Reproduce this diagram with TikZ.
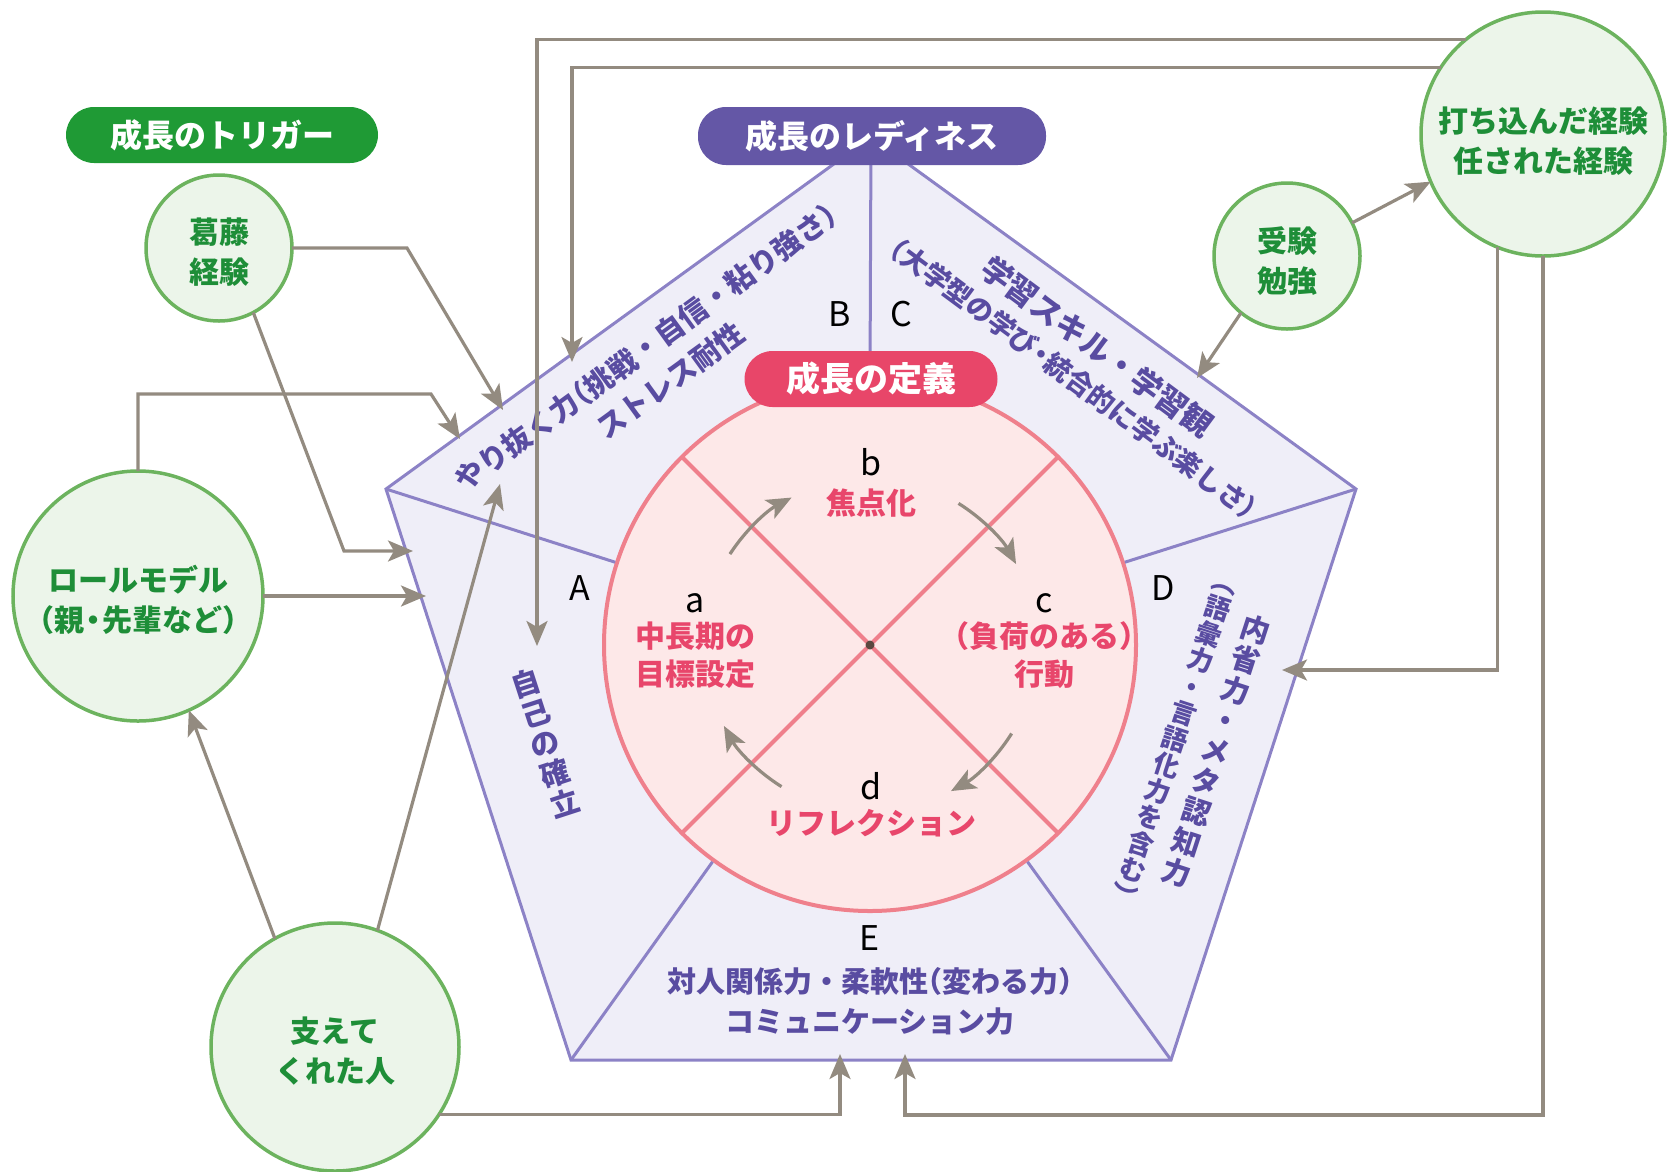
\documentclass[tikz,border=0pt]{standalone}
\usepackage{fontspec}
\setmainfont{Noto Sans CJK JP}
\usetikzlibrary{arrows.meta,calc}
\definecolor{pfill}{HTML}{EFEEF8}
\definecolor{pline}{HTML}{8C82C6}
\definecolor{ptext}{HTML}{594CA1}
\definecolor{ppill}{HTML}{6457A6}
\definecolor{rfill}{HTML}{FDE8E8}
\definecolor{rline}{HTML}{EF808C}
\definecolor{rpill}{HTML}{E84669}
\definecolor{rtext}{HTML}{E8466B}
\definecolor{gfill}{HTML}{ECF5EA}
\definecolor{gline}{HTML}{6CB35E}
\definecolor{gtext}{HTML}{1E8E38}
\definecolor{gpill}{HTML}{1F9A35}
\definecolor{arr}{HTML}{938B80}
\definecolor{dotc}{HTML}{5A4840}
\newcommand\LP{\kern-0.5em（}
\newcommand\RP{）\kern-0.5em}
\newcommand\DT{\kern-0.2em・\kern-0.2em}
\newcommand\fs[2]{\fontsize{#1}{#2}\selectfont}
\newcommand\vLP{\rotatebox[origin=c]{-90}{（}}
\newcommand\vRP{\rotatebox[origin=c]{-90}{）}}
\begin{document}
\begin{tikzpicture}[x=1pt,y=-1pt,
  conn/.style={draw=arr, line width=3.2pt, -{Stealth[length=25pt,width=21pt,inset=6pt]}},
  gcirc/.style={circle, draw=gline, line width=3.5pt, fill=gfill, inner sep=0pt, outer sep=0pt},
  gtl/.style={text=gtext, font=\bfseries\fs{30}{40}, align=center, inner sep=0pt, yshift=-4pt},
  pill/.style={rectangle, rounded corners=28pt, text=white, font=\bfseries\fs{32}{38}, inner sep=0pt, outer sep=0pt},
  ptxt/.style={text=ptext, font=\bfseries\fs{29}{40}, align=center, inner sep=0pt},
  rtxt/.style={text=rtext, font=\bfseries\fs{30}{38}, align=center, inner sep=0pt},
  lett/.style={text=black, font=\fs{34}{40}, inner sep=0pt},
  radial/.style={draw=pline, line width=3pt, shorten >=2pt},
  xline/.style={draw=rline, line width=4pt},
]
\useasboundingbox (0,0) rectangle (1668,1171);
% pentagon
\coordinate (pT) at (871,137);
\coordinate (pL) at (386,489);
\coordinate (pR) at (1356,489);
\coordinate (pBL) at (571,1060);
\coordinate (pBR) at (1171,1060);
\draw[line width=3pt, draw=pline, fill=pfill, line join=miter] (pT) -- (pR) -- (pBR) -- (pBL) -- (pL) -- cycle;
% inner circle
\node[circle, minimum size=532pt, draw=rline, line width=4pt, fill=rfill, inner sep=0pt, outer sep=0pt] (def) at (870,645) {};
\draw[radial] (pT) -- (def.90);
\draw[radial] (pL) -- (def.162);
\draw[radial] (pR) -- (def.18);
\draw[radial] (pBL) -- (def.234);
\draw[radial] (pBR) -- (def.306);
\draw[xline] (def.45) -- (def.225);
\draw[xline] (def.135) -- (def.315);
% cycle arrows
\draw[conn] ($(def.center)+(147:167pt)$) arc[start angle=147, end angle=118, radius=167pt];
\draw[conn] ($(def.center)+(58:167pt)$) arc[start angle=58, end angle=29, radius=167pt];
\draw[conn] ($(def.center)+(-32:167pt)$) arc[start angle=-32, end angle=-61, radius=167pt];
\draw[conn] ($(def.center)+(-122:167pt)$) arc[start angle=-122, end angle=-151, radius=167pt];
\fill[dotc] (def.center) circle[radius=4.5pt];
% letters
\node[lett] (lA) at (580,588) {A};
\node[lett] (lB) at (840,314) {B};
\node[lett] (lC) at (901,314) {C};
\node[lett] (lD) at (1163,588) {D};
\node[lett] (lE) at (870,938) {E};
\node[lett] (la) at (695,603) {a};
\node[lett] (lb) at (871,462) {b};
\node[lett] (lc) at (1044,603) {c};
\node[lett] (ld) at (871,786) {d};
% circle texts
\node[rtxt] (tb) at (871,503) {焦点化};
\node[rtxt] (ta) at (695,655) {中長期の\\目標設定};
\node[rtxt] (tc) at (1044,655) {\LP 負荷のある\RP\\行動};
\node[rtxt] (td) at (871,823) {リフレクション};
% pentagon texts
\node[ptxt, rotate=36, font=\bfseries\fs{29}{41}] (txB) at (658,364) {やり抜く力\LP 挑戦・自信・粘り強さ\RP\\ストレス耐性};
\node[ptxt, rotate=-36.5, font=\bfseries\fs{29}{38}] (txC) at (1086,362) {{\fs{31}{38}学習スキル・学習観}\\{\fs{27}{38}\LP 大学型の学び\DT 統合的に学ぶ楽しさ\RP}};
\node[ptxt, rotate=-18, font=\bfseries\fs{29}{32}] (txD1) at (1216,751) {内\\省\\力\\・\\メ\\タ\\認\\知\\力};
\node[ptxt, rotate=-18, font=\bfseries\fs{26}{27.5}] (txD2) at (1175,739) {\vLP\\語\\彙\\力\\・\\言\\語\\化\\力\\を\\含\\む\\\vRP};
\node[ptxt, rotate=18, font=\bfseries\fs{29}{31.5}] (txA) at (545,743) {自\\己\\の\\確\\立};
\node[ptxt] (txE) at (870,1001) {対人関係力・柔軟性\LP 変わる力\RP\\コミュニケーション力};
% pills
\node[pill, fill=gpill, minimum width=312pt, minimum height=56pt] (trig) at (222,135) {成長のトリガー};
\node[pill, fill=ppill, minimum width=348pt, minimum height=58pt] (ready) at (872,136) {成長のレディネス};
\node[pill, fill=rpill, minimum width=253pt, minimum height=56pt, font=\bfseries\fs{34}{40}] (defn) at (871,379) {成長の定義};
% green circles
\node[gcirc, minimum size=146pt, label={[gtl]center:{葛藤\\経験}}] (katto) at (219,248) {};
\node[gcirc, minimum size=250pt, label={[gtl]center:{ロールモデル\\\LP 親\DT 先輩など\RP}}] (role) at (138,596) {};
\node[gcirc, minimum size=248pt, label={[gtl]center:{支えて\\くれた人}}] (sasae) at (335,1047) {};
\node[gcirc, minimum size=146pt, label={[gtl, yshift=-1pt]center:{受験\\勉強}}] (juken) at (1287,256) {};
\node[gcirc, minimum size=244pt, label={[gtl, yshift=-3pt]center:{打ち込んだ経験\\任された経験}}] (uchi) at (1543,134) {};
% connector ends
\coordinate (t1) at (503,410);
\coordinate (b2) at (344,551);
\coordinate (t2) at (413,551);
\coordinate (b3) at (431,394);
\coordinate (t3) at (460,439);
\coordinate (t4) at (426,596);
\coordinate (t6) at (500,484);
\coordinate (t7) at (840,1054);
\coordinate (b8) at (905,1115);
\coordinate (t8) at (905,1054);
\coordinate (t9) at (1282,670);
\coordinate (t10) at (537,646);
\coordinate (t11) at (572,362);
\coordinate (t13) at (1197,378);
% connectors
\draw[conn] (katto.east) -- ++(115,0) -- (t1);
\draw[conn] (katto.-62) -- (b2) -- (t2);
\draw[conn] (role.north) |- (b3) -- (t3);
\draw[conn] (role.east) -- (t4);
\draw[conn] (sasae.119) -- (role.-66);
\draw[conn] (sasae.70) -- (t6);
\draw[conn] (sasae.-33) -| (t7);
\draw[conn] (uchi.south) |- (b8) -- (t8);
\draw[conn] (uchi.-112) |- (t9);
\draw[conn] (uchi.129) -| (t10);
\draw[conn] (uchi.147) -| (t11);
\draw[conn] (juken.27) -- (uchi.-157);
\draw[conn] (juken.-129) -- (t13);
\end{tikzpicture}
\end{document}
